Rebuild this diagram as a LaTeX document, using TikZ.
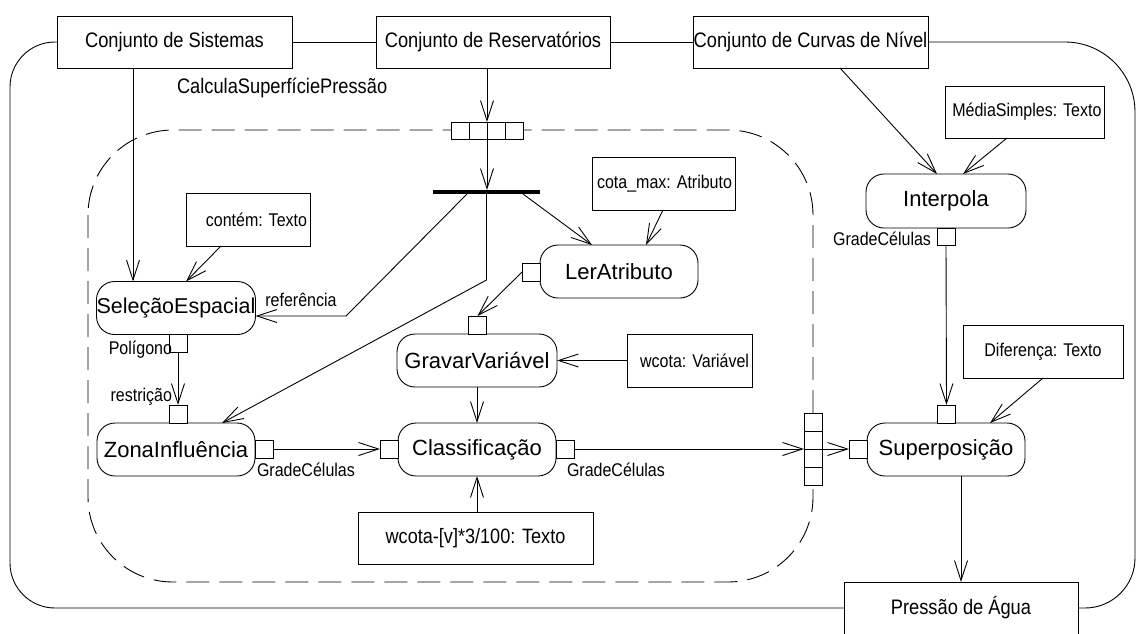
\documentclass[tikz,border=0pt]{standalone}
\usepackage{fontspec}
\setmainfont{Liberation Sans}
\newfontfamily\narrowsans[FakeStretch=0.87]{Liberation Sans}
\usetikzlibrary{arrows.meta,calc}
\begin{document}
\begin{tikzpicture}[x=1pt,y=-1pt,line width=0.9pt,
  >={Straight Barb[length=20pt,width=13pt]},
  every node/.style={inner sep=0pt,outer sep=0pt},
  lblfont/.style={font=\narrowsans\fontsize{18.4}{21}\selectfont},
  topfont/.style={font=\narrowsans\fontsize{21}{24}\selectfont},
  actfont/.style={font=\fontsize{22}{26}\selectfont},
  topbox/.style={draw,fill=white,topfont,minimum width=235pt,minimum height=52pt},
  actbox/.style={draw,fill=white,actfont,rounded corners=18pt,minimum width=158pt,minimum height=53pt},
  parbox/.style={draw,fill=white,lblfont,minimum height=53pt,inner xsep=3pt},
  port/.style={draw,fill=white,minimum width=18pt,minimum height=18pt},
  frame/.style={dash pattern=on 23pt off 10pt,rounded corners=85pt},
  fork/.style={fill=black,minimum width=107pt,minimum height=4pt}
]
\useasboundingbox (0,0) rectangle (1138,633);

% dashed boundary of the composite activity
\draw[frame] (88,130) rectangle (813,582);

% data sets
\node[topbox] (sist) at (174.5,42) {Conjunto de Sistemas};
\node[topbox,minimum width=234pt] (res) at (493,42) {Conjunto de Reservatórios};
\node[topbox] (curv) at (810.5,42) {Conjunto de Curvas de Nível};
\node[topbox,minimum width=234pt] (pres) at (961,608) {Pressão de Água};
\node[topfont,anchor=west] (titulo) at (177,88) {CalculaSuperfíciePressão};

% activities
\node[actbox,font=\fontsize{21.5}{26}\selectfont] (sel) at (176,308) {SeleçãoEspacial};
\node[actbox] (zona) at (176,449.5) {ZonaInfluência};
\node[actbox] (ler) at (619,271.5) {LerAtributo};
\node[actbox,minimum width=160pt] (grav) at (477,360.5) {GravarVariável};
\node[actbox] (clas) at (477,449.5) {Classificação};
\node[actbox,minimum width=160pt,minimum height=54pt] (interp) at (946,201) {Interpola};
\node[actbox] (sup) at (946,449.5) {Superposição};

% parameters
\node[parbox,minimum width=124pt,text width=118pt,align=flush right] (cont) at (248,219.5) {contém: Texto};
\node[parbox,minimum width=143pt,text width=137pt,align=flush right] (cota) at (663.5,183.5) {cota\_max: Atributo};
\node[parbox,minimum width=158pt,minimum height=52pt,text width=153pt,align=flush right] (med) at (1025,112) {MédiaSimples: Texto};
\node[parbox,minimum width=125pt,text width=119pt,align=flush right] (wvar) at (689.5,360.5) {wcota: Variável};
\node[parbox,minimum width=160pt] (dif) at (1043,351.5) {Diferença: Texto};
\node[parbox,minimum width=235pt,minimum height=52pt,font=\narrowsans\fontsize{20.8}{24}\selectfont] (wexp) at (475.5,538) {wcota-[v]*3/100: Texto};

% pins
\node[port] (selP) at (178,343) {};
\node[port] (zonR) at (178,414) {};
\node[port] (zonO) at (264.5,449) {};
\node[port] (clasI) at (389,449) {};
\node[port] (clasO) at (565.5,449) {};
\node[port] (lerP) at (531,272) {};
\node[port] (gravP) at (477.5,325) {};
\node[port] (supI) at (858,449) {};
\node[port] (supT) at (946.5,414) {};
\node[port,minimum height=17pt] (intO) at (946,236.5) {};
\node[port,minimum height=17pt] (inA) at (460,130.5) {};
\node[port,minimum height=17pt] (inB) at (478,130.5) {};
\node[port,minimum height=17pt] (inC) at (496,130.5) {};
\node[port,minimum height=17pt] (inD) at (514,130.5) {};
\node[port] (outA) at (813,422) {};
\node[port] (outB) at (813,440) {};
\node[port] (outC) at (813,458) {};
\node[port] (outD) at (813,476) {};

% fork bar
\node[fork] (fk) at (486.5,192) {};

% pin labels
\node[lblfont] (lref) at (301,300) {referência};
\node[lblfont,anchor=east] (lpol) at (172,350) {Polígono};
\node[lblfont,anchor=east] (lres) at (172,397) {restrição};
\node[lblfont,anchor=west] (lg1) at (257,470) {GradeCélulas};
\node[lblfont,anchor=west] (lg2) at (567,470) {GradeCélulas};
\node[lblfont,anchor=east] (lg3) at (931,239) {GradeCélulas};

% outer loop joining the data sets
\draw (sist.east) -- (res.west);
\draw (res.east) -- (curv.west);
\draw[rounded corners=45pt] (sist.west) -- (10,42) -- (10,608) -- (pres.west);
\draw[rounded corners=70pt] (curv.east) -- (1135,42) -- (1135,340);
\draw[rounded corners=50pt] (1135,340) -- (1135,608) -- (pres.east);

% flows
\draw[->] (res.south -| inB.east) -- (inB.north east);
\draw[->] (inB.south east) -- (inB.south east |- fk.north);
\draw[->] ([xshift=-41.5pt]sist.south) -- ([xshift=-43pt]sel.north);
\draw[->] ([xshift=-27pt]cont.south) -- ([xshift=10pt]sel.north);
\draw[->] ([xshift=-19.5pt]fk.south) -- (346,316) -- (sel.east |- 346,316);
\draw[->] (fk.south) -- (486.5,280) -- ([xshift=46pt]zona.north);
\draw[->] ([xshift=36.5pt]fk.south) -- ([xshift=-27pt]ler.north);
\draw[->] ([xshift=-0.5pt]cota.south) -- ([xshift=27pt]ler.north);
\draw[->] (lerP.west) -- (gravP.north);
\draw[->] (wvar.west) -- (grav.east);
\draw[->] (grav.south) -- (clas.north);
\draw[->] (wexp.north -| clas.south) -- (clas.south);
\draw[->] (selP.south) -- (zonR.north);
\draw[->] (zonO.east) -- (clasI.west);
\draw[->] (clasO.east) -- (outB.south west);
\draw[->] (outB.south east) -- (supI.west);
\draw[->] ([xshift=29.5pt]curv.south) -- ([xshift=-9pt]interp.north);
\draw[->] ([xshift=-18pt]med.south) -- ([xshift=17pt]interp.north);
\draw[->] (intO.south) -- (supT.north);
\draw[->] (dif.south) -- ([xshift=44pt]sup.north);
\draw[->] (pres.north |- sup.south) -- (pres.north);
\end{tikzpicture}
\end{document}
